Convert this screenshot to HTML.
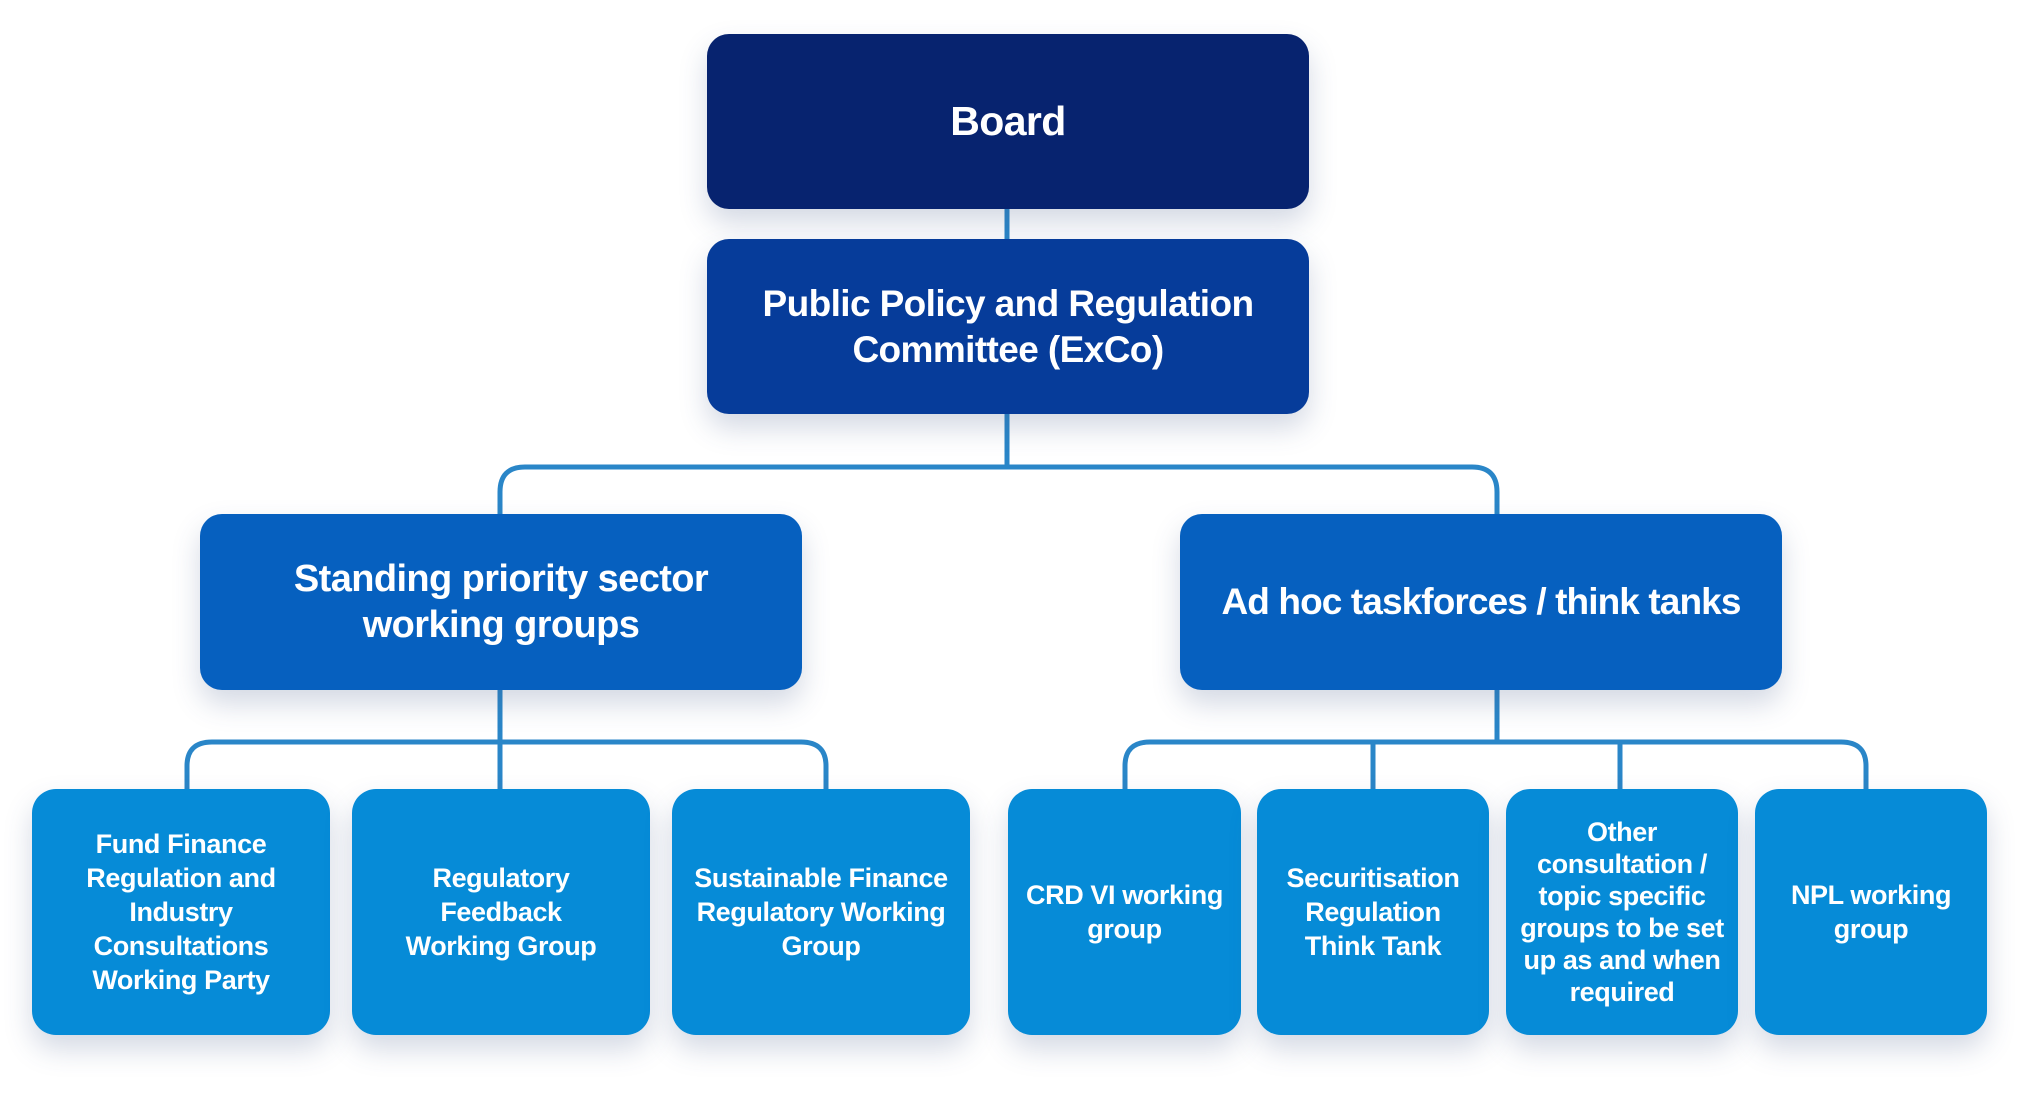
<!DOCTYPE html>
<html><head><meta charset="utf-8"><style>
html,body{margin:0;padding:0;background:#fff;}
body{width:2022px;height:1107px;position:relative;overflow:hidden;font-family:"Liberation Sans",Arial,sans-serif;font-weight:bold;color:#fff;}
.b{position:absolute;display:flex;align-items:center;justify-content:center;text-align:center;box-sizing:border-box;box-shadow:0 14px 28px rgba(60,80,130,0.22);letter-spacing:-0.6px;}
.s{font-size:27px;line-height:34px;border-radius:24px;background:#068bd7;padding:0 10px;letter-spacing:-0.4px;}
svg{position:absolute;left:0;top:0;}
</style></head><body>
<svg width="2022" height="1107">
<g fill="none" stroke="#2a86c8" stroke-width="5">
<line x1="1007" y1="205" x2="1007" y2="242"/>
<line x1="1007" y1="410" x2="1007" y2="467"/>
<path d="M500 516 V492 Q500 467 525 467 H1472 Q1497 467 1497 492 V516"/>
<line x1="500" y1="688" x2="500" y2="792"/>
<path d="M187 792 V766 Q187 742 212 742 H801 Q826 742 826 766 V792"/>
<line x1="1497" y1="688" x2="1497" y2="742"/>
<path d="M1125 792 V766 Q1125 742 1150 742 H1841 Q1866 742 1866 766 V792"/>
<line x1="1373" y1="742" x2="1373" y2="792"/>
<line x1="1620" y1="742" x2="1620" y2="792"/>
</g></svg>
<div class="b" style="left:707px;top:34px;width:602px;height:175px;background:#07236f;border-radius:22px;font-size:41px;">Board</div>
<div class="b" style="left:707px;top:239px;width:602px;height:175px;background:#063c9a;border-radius:22px;font-size:37px;line-height:46px;">Public Policy and Regulation<br>Committee (ExCo)</div>
<div class="b" style="left:200px;top:514px;width:602px;height:176px;background:#0660bf;border-radius:22px;font-size:38px;line-height:46px;">Standing priority sector<br>working groups</div>
<div class="b" style="left:1180px;top:514px;width:602px;height:176px;background:#0660bf;border-radius:22px;font-size:37px;letter-spacing:-0.9px;">Ad hoc taskforces / think tanks</div>
<div class="b s" style="left:32px;top:789px;width:298px;height:246px;">Fund Finance<br>Regulation and<br>Industry<br>Consultations<br>Working Party</div>
<div class="b s" style="left:352px;top:789px;width:298px;height:246px;">Regulatory<br>Feedback<br>Working Group</div>
<div class="b s" style="left:672px;top:789px;width:298px;height:246px;">Sustainable Finance<br>Regulatory Working<br>Group</div>
<div class="b s" style="left:1008px;top:789px;width:233px;height:246px;">CRD VI working<br>group</div>
<div class="b s" style="left:1257px;top:789px;width:232px;height:246px;">Securitisation<br>Regulation<br>Think Tank</div>
<div class="b s" style="left:1506px;top:789px;width:232px;height:246px;line-height:32px;">Other<br>consultation /<br>topic specific<br>groups to be set<br>up as and when<br>required</div>
<div class="b s" style="left:1755px;top:789px;width:232px;height:246px;">NPL working<br>group</div>
</body></html>
